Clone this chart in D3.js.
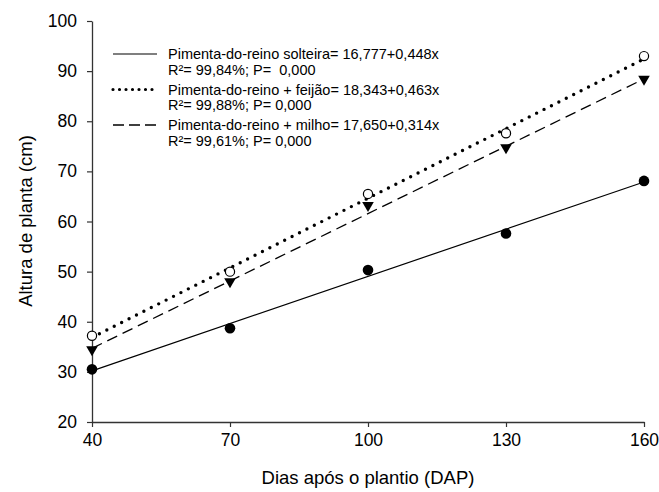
<!DOCTYPE html>
<html><head><meta charset="utf-8">
<script src="https://cdn.jsdelivr.net/npm/d3@7"></script>
<style>body{margin:0;background:#fff}svg{display:block}text{font-family:Arial,"Liberation Sans",sans-serif;fill:#000;white-space:pre}</style>
</head><body>
<svg id="c" width="659" height="492"></svg>
<script>
const days = [40, 70, 100, 130, 160];
const solteira = [30.5, 38.7, 50.3, 57.6, 68.1];
const feijao = [37.2, 50.0, 65.5, 77.6, 93.0];
const milho = [34.2, 47.8, 63.0, 74.5, 88.2];
// fitted lines as drawn (intercept, slope)
const lineSolid = [17.650, 0.314];
const lineDotted = [18.343, 0.463];
const lineDashed = [16.777, 0.448];
const xTicks = [40, 70, 100, 130, 160];
const yTicks = [20, 30, 40, 50, 60, 70, 80, 90, 100];
const legendLines = [
  ["Pimenta-do-reino solteira= 16,777+0,448x", "R\u00b2= 99,84%; P=  0,000"],
  ["Pimenta-do-reino + feij\u00e3o= 18,343+0,463x", "R\u00b2= 99,88%; P= 0,000"],
  ["Pimenta-do-reino + milho= 17,650+0,314x", "R\u00b2= 99,61%; P= 0,000"]
];

const svg = d3.select("#c");
const x = d3.scaleLinear().domain([40,160]).range([92,644]);
const y = d3.scaleLinear().domain([20,100]).range([422,21]);

const gx = svg.append("g").attr("transform","translate(0,422)")
  .call(d3.axisBottom(x).tickValues(xTicks).tickSize(5).tickPadding(4).tickSizeOuter(0));
const gy = svg.append("g").attr("transform","translate(92,0)")
  .call(d3.axisLeft(y).tickValues(yTicks).tickSize(5).tickPadding(9).tickSizeOuter(0));
[gx,gy].forEach(g=>{
  g.select(".domain").attr("stroke","#333").attr("stroke-width",1.3);
  g.selectAll(".tick line").attr("stroke","#333").attr("stroke-width",1.2);
  g.selectAll(".tick text").attr("font-size",17.5).attr("font-family","Arial, 'Liberation Sans', sans-serif");
});
gx.selectAll(".tick text").attr("dy","0.85em");
gy.selectAll(".tick text").attr("dx","-1");

svg.append("text").attr("x",368).attr("y",484).attr("text-anchor","middle").attr("font-size",18.5).text("Dias ap\u00f3s o plantio (DAP)");
svg.append("text").attr("transform","translate(32,221) rotate(-90)").attr("text-anchor","middle").attr("font-size",18.5).text("Altura de planta (cm)");

function drawLine(p, dash, width, cap){
  svg.append("line").attr("x1",x(40)).attr("y1",y(p[0]+p[1]*40))
    .attr("x2",x(160)).attr("y2",y(p[0]+p[1]*160))
    .attr("stroke","#000").attr("stroke-width",width)
    .attr("stroke-dasharray",dash).attr("stroke-linecap",cap);
}
drawLine(lineSolid, null, 1.2, "butt");
drawLine(lineDashed, "11,6", 1.3, "butt");
drawLine(lineDotted, "0,8.3", 3.4, "round");

// markers
svg.selectAll(".s").data(days).enter().append("circle")
  .attr("cx",d=>x(d)).attr("cy",(d,i)=>y(solteira[i])).attr("r",5.3).attr("fill","#000");
svg.selectAll(".m").data(days).enter().append("path")
  .attr("d",(d,i)=>{const cx=x(d), cy=y(milho[i]); return `M${cx-5.8},${cy-4.5}L${cx+5.8},${cy-4.5}L${cx},${cy+5.5}Z`;})
  .attr("fill","#000");
svg.selectAll(".f").data(days).enter().append("circle")
  .attr("cx",d=>x(d)).attr("cy",(d,i)=>y(feijao[i])).attr("r",4.6).attr("fill","#fff").attr("stroke","#000").attr("stroke-width",1.2);

// legend
const lg = svg.append("g");
const rowY = [59, 94.5, 130];
const styles = [[null,1.2,"butt"],["0,6.5",3.2,"round"],["11,5",1.3,"butt"]];
legendLines.forEach((t,i)=>{
  lg.append("line").attr("x1",113).attr("x2",157).attr("y1",rowY[i]-5).attr("y2",rowY[i]-5)
    .attr("stroke","#000").attr("stroke-width",styles[i][1]).attr("stroke-dasharray",styles[i][0]).attr("stroke-linecap",styles[i][2]);
  lg.append("text").attr("x",168).attr("y",rowY[i]).attr("font-size",14.5).text(t[0]);
  lg.append("text").attr("x",168).attr("y",rowY[i]+15.5).attr("font-size",14.5).text(t[1]);
});
</script>
</body></html>
